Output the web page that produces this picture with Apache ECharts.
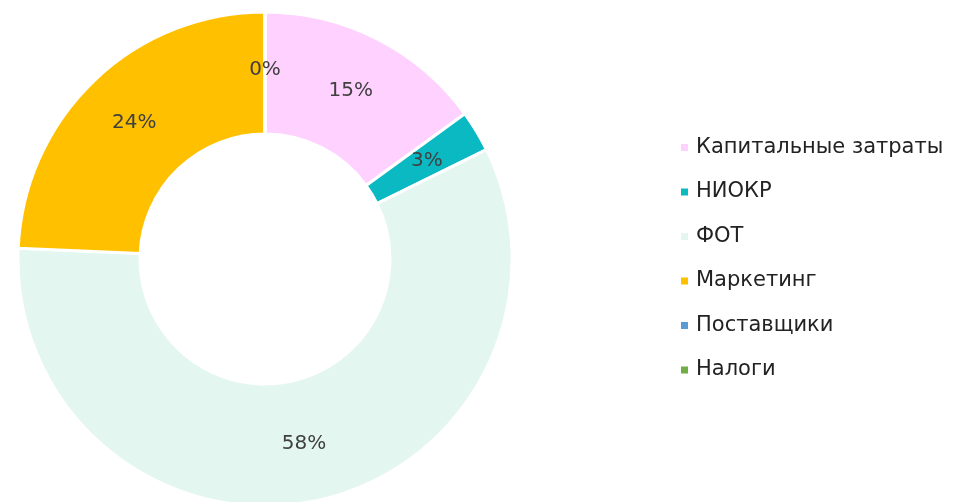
<!DOCTYPE html>
<html>
<head>
<meta charset="utf-8">
<script src="https://cdn.jsdelivr.net/npm/echarts@6/dist/echarts.min.js"></script>
<style>
  html, body { margin: 0; padding: 0; background: #fff; }
  #main { width: 958px; height: 502px; }
</style>
</head>
<body>
<div id="main"></div>
<script>
var categories = ['Капитальные затраты', 'НИОКР', 'ФОТ', 'Маркетинг', 'Поставщики', 'Налоги'];
var values = [15.0, 2.7, 58.0, 24.3, 0, 0];
var colors = ['#FFD1FF', '#0BB9C2', '#E3F6EF', '#FFC000', '#5B9BD5', '#70AD47'];

var chart = echarts.init(document.getElementById('main'));

var pieData = [];
for (var i = 0; i < categories.length; i++) {
  pieData.push({ name: categories[i], value: values[i], itemStyle: { color: colors[i] } });
}

var option = {
  animation: false,
  textStyle: { fontFamily: 'DejaVu Sans' },
  legend: {
    orient: 'vertical',
    left: 674,
    top: 132,
    itemWidth: 9,
    itemHeight: 9,
    itemGap: 23.5,
    icon: 'rect',
    data: categories,
    textStyle: { fontSize: 21, color: '#222', fontFamily: 'DejaVu Sans', padding: [0, 0, 0, 2] }
  },
  series: [{
    type: 'pie',
    center: [265, 259],
    radius: [125, 247],
    startAngle: 90,
    clockwise: true,
    avoidLabelOverlap: false,
    itemStyle: { borderColor: '#fff', borderWidth: 3 },
    label: {
      show: true,
      position: 'inside',
      color: '#404040',
      fontSize: 20,
      fontFamily: 'DejaVu Sans',
      formatter: function (p) { return Math.round(p.percent) + '%'; }
    },
    labelLine: { show: false },
    emphasis: { disabled: true },
    data: pieData
  }]
};
chart.setOption(option);
</script>
</body>
</html>
